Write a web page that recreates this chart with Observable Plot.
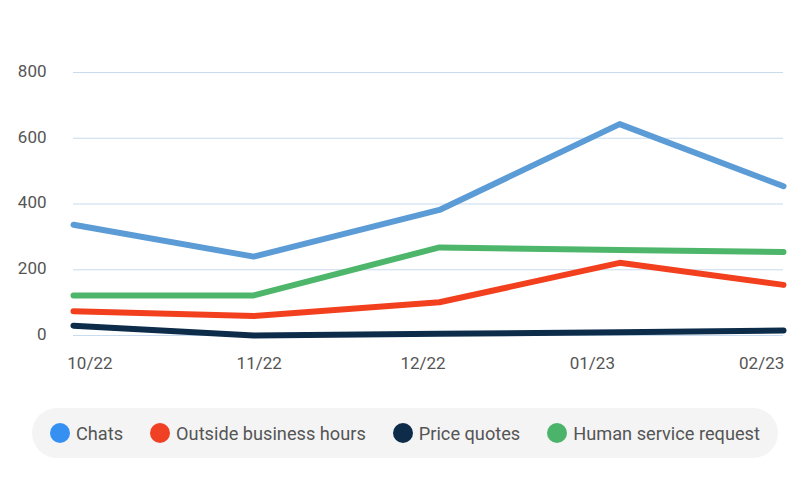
<!DOCTYPE html>
<html>
<head>
<meta charset="utf-8">
<script src="https://cdn.jsdelivr.net/npm/d3@7"></script>
<script src="https://cdn.jsdelivr.net/npm/@observablehq/plot@0.6"></script>
<style>
  html, body { margin: 0; padding: 0; background: #fff; }
  body { width: 810px; height: 500px; overflow: hidden; font-family: Roboto, "Noto Sans", sans-serif; }
  #legend {
    position: absolute; left: 32px; top: 408px; width: 746px; height: 50px;
    box-sizing: border-box; background: #f4f4f4; border-radius: 25px;
    display: flex; align-items: center; gap: 27px; padding-left: 18px;
    font-size: 18.2px; color: #555;
  }
  .item { display: flex; align-items: center; gap: 6px; white-space: nowrap; }
  .dot { width: 20px; height: 20px; border-radius: 50%; display: inline-block; }
</style>
</head>
<body>
<div id="chart"></div>
<div id="legend"></div>
<script>
// Data
const dates = ["2022-09-28", "2022-10-31", "2022-12-04", "2023-01-06", "2023-02-05"];
const chats = [337, 240, 382, 643, 454];
const outsideHours = [74, 59, 101, 221, 154];
const priceQuotes = [30, 0, 5, 10, 15];
const humanRequest = [122, 122, 268, 260, 254];

const seriesNames = ["Chats", "Outside business hours", "Price quotes", "Human service request"];
const lineColors = ["#5b9bd6", "#f2401f", "#0d2c4a", "#4db66a"];
const dotColors = ["#3590f2", "#f04124", "#0e2c4a", "#4cb46a"];

const tickDates = ["2022-10-01", "2022-11-01", "2022-12-01", "2023-01-01", "2023-02-01"];
const tickLabels = ["10/22", "11/22", "12/22", "01/23", "02/23"];
const yTicks = [0, 200, 400, 600, 800];

const seriesValues = [chats, outsideHours, priceQuotes, humanRequest];
const rows = [];
seriesNames.forEach((name, s) => {
  dates.forEach((d, i) => rows.push({series: name, date: new Date(d), value: seriesValues[s][i]}));
});
const tickDateObjs = tickDates.map(d => new Date(d));
const labelFor = new Map(tickDateObjs.map((d, i) => [+d, tickLabels[i]]));

const drawOrder = ["Chats", "Human service request", "Outside business hours", "Price quotes"];

const plot = Plot.plot({
  width: 810,
  height: 390,
  marginLeft: 73,
  marginRight: 27,
  marginTop: 72,
  marginBottom: 55,
  style: {fontFamily: "Roboto, sans-serif", fontSize: "17px", color: "#555", background: "#fff"},
  x: {type: "utc", domain: [new Date(dates[0]), new Date(dates[dates.length - 1])]},
  y: {domain: [0, 800]},
  color: {domain: seriesNames, range: lineColors},
  marks: [
    Plot.gridY(yTicks, {stroke: "#c8dbef", strokeOpacity: 1, strokeWidth: 1}),
    Plot.axisY(yTicks, {tickSize: 0, tickPadding: 27, label: null, fill: "#555", fontSize: 17, dy: -1}),
    Plot.axisX(tickDateObjs, {tickSize: 0, tickPadding: 21, label: null, fill: "#555", fontSize: 17,
      tickFormat: d => labelFor.get(+d)}),
    ...drawOrder.map(name => Plot.line(rows.filter(r => r.series === name), {
      x: "date", y: "value", stroke: "series", strokeWidth: 6,
      strokeLinecap: "round", strokeLinejoin: "round"
    }))
  ]
});
document.getElementById("chart").appendChild(plot);

const legend = document.getElementById("legend");
seriesNames.forEach((name, i) => {
  const item = document.createElement("div");
  item.className = "item";
  const dot = document.createElement("span");
  dot.className = "dot";
  dot.style.background = dotColors[i];
  const label = document.createElement("span");
  label.textContent = name;
  item.appendChild(dot);
  item.appendChild(label);
  legend.appendChild(item);
});
</script>
</body>
</html>
